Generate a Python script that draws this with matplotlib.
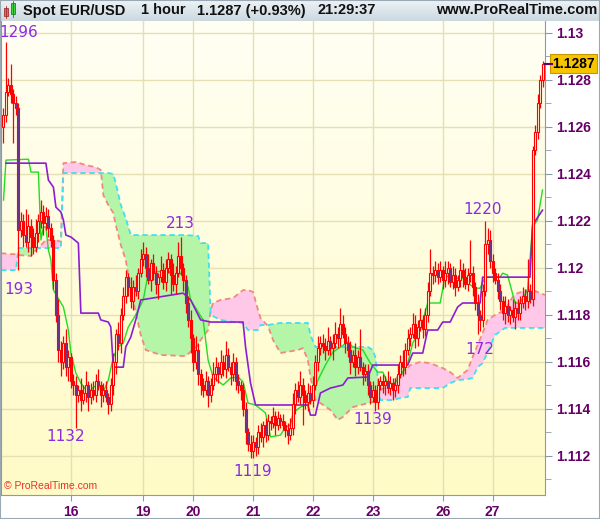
import numpy as np
import matplotlib
matplotlib.use("Agg")
from matplotlib import pyplot as plt
from matplotlib.patches import Rectangle
from matplotlib.colors import LinearSegmentedColormap

# EUR/USD hourly candles with an Ichimoku overlay (ProRealTime look)

first_open = 1.1260
close = [
    1.1265, 1.1275, 1.1278, 1.1274, 1.1270, 1.1268,
    1.1216,
    1.1220, 1.1214, 1.1211, 1.1218, 1.1213, 1.1209, 1.1215, 1.1220, 1.1224, 1.1219,
    1.1222, 1.1217, 1.1212,
    1.1195, 1.1180, 1.1165, 1.1160,
    1.1168, 1.1158, 1.1162, 1.1152,
    1.1150, 1.1146, 1.1148, 1.1144, 1.1147, 1.1150, 1.1145, 1.1148, 1.1146,
    1.1152, 1.1150, 1.1146, 1.1148, 1.1145, 1.1142,
    1.1150, 1.1160, 1.1172, 1.1168, 1.1180, 1.1188, 1.1196, 1.1192,
    1.1186, 1.1192, 1.1190, 1.1198, 1.1204,
    1.1206, 1.1200, 1.1195, 1.1202, 1.1198, 1.1193, 1.1196, 1.1199, 1.1194,
    1.1200, 1.1204, 1.1197, 1.1193, 1.1198, 1.1205, 1.1200, 1.1195,
    1.1185, 1.1178, 1.1170, 1.1160, 1.1165, 1.1155, 1.1150,
    1.1148, 1.1152, 1.1146, 1.1150, 1.1155,
    1.1158, 1.1155, 1.1160, 1.1157, 1.1163, 1.1158, 1.1155, 1.1160, 1.1152,
    1.1150, 1.1148, 1.1140,
    1.1130, 1.1125, 1.1122, 1.1126, 1.1124,
    1.1130, 1.1128, 1.1133, 1.1129,
    1.1135, 1.1134, 1.1137, 1.1133, 1.1136, 1.1135, 1.1133,
    1.1131, 1.1129, 1.1132,
    1.1142, 1.1148, 1.1145, 1.1150, 1.1146, 1.1143, 1.1147, 1.1144,
    1.1150, 1.1160, 1.1166, 1.1168,
    1.1167, 1.1165, 1.1169, 1.1166, 1.1168, 1.1172, 1.1170, 1.1176, 1.1172, 1.1168,
    1.1165, 1.1160, 1.1163, 1.1158, 1.1162, 1.1158, 1.1155, 1.1156,
    1.1150, 1.1145, 1.1148, 1.1143, 1.1150, 1.1152,
    1.1150, 1.1152, 1.1149, 1.1151, 1.1148, 1.1150,
    1.1155, 1.1160, 1.1158, 1.1165, 1.1170,
    1.1172, 1.1176, 1.1170, 1.1175, 1.1178, 1.1174, 1.1180,
    1.1190, 1.1198, 1.1197, 1.1199,
    1.1196, 1.1199, 1.1195, 1.1198, 1.1200, 1.1194, 1.1197, 1.1192, 1.1195,
    1.1199, 1.1196, 1.1193, 1.1197,
    1.1198, 1.1192, 1.1185, 1.1180, 1.1178,
    1.1190, 1.1210, 1.1212,
    1.1203, 1.1198, 1.1195, 1.1190,
    1.1186, 1.1181, 1.1184, 1.1180, 1.1182, 1.1179, 1.1183, 1.1181,
    1.1185, 1.1188, 1.1186, 1.1190, 1.1187,
    1.1250,
    1.1258, 1.1270, 1.1280, 1.1287,
]

# wick lengths in pips above / below the body
wick_up = [
    3, 21, 3, 9, 2, 3,
    2,
    4, 3, 11, 5, 3, 4, 6, 3, 5, 3,
    4, 3, 2,
    2, 3, 7, 4,
    3, 6, 3, 2,
    3, 4, 2, 5, 3, 6, 2, 3, 4,
    3, 5, 2, 3, 4, 2,
    3, 4, 2, 5, 3, 4, 3, 2,
    4, 3, 5, 2, 4,
    5, 3, 6, 2, 4, 3, 2, 6, 3, 4, 3, 2, 5, 3, 6, 8, 2,
    2, 3, 4, 2, 6, 3, 2,
    3, 4, 2, 3, 5,
    4, 2, 5, 3, 6, 3, 2, 4, 2,
    3, 2, 3,
    3, 2, 4, 3, 2,
    3, 4, 2, 3,
    3, 2, 4, 2, 3, 2, 3,
    2, 3, 4,
    5, 3, 4, 6, 3, 2, 4, 3,
    4, 3, 5, 3,
    4, 3, 6, 2, 4, 5, 3, 7, 4, 3,
    3, 4, 2, 5, 3, 12, 2, 3,
    3, 2, 4, 2, 3, 2,
    3, 2, 4, 3, 2, 3,
    4, 3, 5, 3, 4,
    3, 5, 4, 3, 5, 2, 3,
    4, 10, 3, 4,
    3, 4, 2, 5, 3, 2, 4, 3, 2, 5, 3, 4, 3,
    14, 3, 2, 4, 2,
    3, 10, 5,
    4, 3, 2, 3,
    3, 2, 4, 3, 2, 5, 3, 4,
    3, 4, 3, 14, 3,
    2,
    3, 4, 2, 1,
]
wick_lo = [
    7, 3, 2, 4, 17, 3,
    17,
    3, 5, 2, 4, 8, 3, 2, 4, 3, 5,
    3, 4, 3,
    4, 3, 5, 6,
    3, 4, 6, 3,
    4, 14, 3, 5, 2, 4, 6, 3, 2,
    3, 2, 5, 3, 2, 4,
    3, 4, 5, 3, 4, 2, 3, 4,
    3, 4, 2, 3, 2,
    3, 4, 2, 5, 3, 4, 6, 2, 3, 4, 2, 8, 3, 4, 2, 3, 5,
    4, 3, 6, 4, 3, 5, 4,
    3, 2, 5, 3, 2,
    3, 4, 2, 3, 4, 2, 5, 3, 4,
    3, 4, 3,
    5, 3, 3, 3, 4,
    3, 2, 4, 3,
    2, 3, 2, 4, 2, 3, 2,
    3, 4, 2,
    3, 4, 2, 3, 13, 3, 4, 2,
    3, 2, 4, 3,
    3, 4, 2, 3, 5, 2, 4, 3, 2, 4,
    3, 5, 2, 4, 3, 2, 5, 3,
    4, 3, 2, 4, 3, 2,
    3, 4, 2, 3, 4, 3,
    3, 2, 4, 3, 2,
    3, 2, 4, 3, 2, 4, 3,
    3, 2, 4, 3,
    3, 2, 4, 3, 5, 2, 3, 4, 2, 3, 4, 2, 3,
    3, 4, 3, 8, 5,
    3, 2, 4,
    3, 4, 2, 3,
    4, 3, 5, 3, 4, 2, 5, 3,
    3, 2, 4, 3, 2,
    3,
    2, 3, 2, 3,
]

# Tenkan (green) and Kijun (purple) lines: bar index, price
tenkan_x = [0, 1, 10, 11, 14, 15, 16, 17, 18, 19, 20, 24, 26, 27, 29, 31, 34, 36,
            38, 40, 42, 44, 46, 48, 50, 53, 56, 58, 66, 68, 71, 74, 75, 80, 82,
            84, 88, 91, 94, 96, 98, 101, 105, 107, 111, 113, 115, 116, 119, 123,
            124, 126, 129, 132, 138, 140, 144, 147, 150, 152, 154, 156, 159, 162,
            164, 167, 170, 175, 177, 179, 184, 186, 189, 191, 193, 199, 200, 202,
            205, 207, 210, 212, 214, 216]
tenkan_y = [1.12289, 1.12459, 1.12463, 1.12408, 1.12408, 1.12119, 1.12174, 1.12174,
            1.12076, 1.12034, 1.11906, 1.11834, 1.11736, 1.11638, 1.11553, 1.11510,
            1.11468, 1.11493, 1.11502, 1.11472, 1.11523, 1.11621, 1.11664, 1.11681,
            1.11749, 1.11800, 1.11864, 1.11978, 1.11991, 1.11957, 1.11978, 1.11919,
            1.11864, 1.11779, 1.11608, 1.11536, 1.11502, 1.11532, 1.11536, 1.11515,
            1.11425, 1.11417, 1.11383, 1.11281, 1.11289, 1.11323, 1.11332, 1.11383,
            1.11408, 1.11425, 1.11459, 1.11523, 1.11587, 1.11642, 1.11685, 1.11664,
            1.11651, 1.11595, 1.11557, 1.11557, 1.11510, 1.11502, 1.11536, 1.11595,
            1.11681, 1.11736, 1.11851, 1.11851, 1.11970, 1.11957, 1.11957, 1.11936,
            1.11914, 1.11914, 1.11961, 1.11961, 1.11978, 1.11970, 1.11851, 1.11851,
            1.11906, 1.12174, 1.12204, 1.12332]
kijun_x = [1, 17, 18, 20, 21, 23, 24, 25, 27, 30, 31, 38, 39, 42, 43, 44, 48, 49,
           51, 53, 55, 72, 75, 79, 83, 96, 97, 99, 101, 122, 123, 125, 127, 131,
           136, 138, 146, 148, 162, 164, 168, 170, 174, 176, 179, 182, 184, 191,
           192, 211, 212, 216]
kijun_y = [1.12446, 1.12446, 1.12374, 1.12344, 1.12259, 1.12238, 1.12204, 1.12140,
           1.12132, 1.12106, 1.11808, 1.11808, 1.11779, 1.11770, 1.11749, 1.11578,
           1.11578, 1.11664, 1.11706, 1.11779, 1.11864, 1.11893, 1.11864, 1.11779,
           1.11770, 1.11770, 1.11664, 1.11510, 1.11417, 1.11417, 1.11374, 1.11374,
           1.11468, 1.11489, 1.11502, 1.11532, 1.11536, 1.11587, 1.11587, 1.11638,
           1.11638, 1.11736, 1.11736, 1.11770, 1.11770, 1.11834, 1.11851, 1.11851,
           1.11961, 1.11961, 1.12183, 1.12246]

# cloud: Senkou span A (red dashed) and span B (cyan dashed)
span_x = [-1, 3, 5, 6, 11, 13, 17, 21, 23, 24, 29, 33, 37, 39, 40, 42, 44, 45, 47,
          49, 51, 55, 57, 63, 73, 78, 79, 82, 83, 84, 87, 92, 96, 98, 100, 102, 103,
          106, 108, 111, 118, 120, 122, 123, 125, 127, 131, 134, 136, 140, 146, 148,
          149, 150, 151, 156, 159, 162, 163, 167, 171, 176, 179, 182, 186, 188, 190,
          192, 194, 197, 201, 204, 206, 210, 212, 217]
span_a = [1.12063, 1.12059, 1.12059, 1.12055, 1.12051, 1.12076, 1.12119, 1.12119,
          1.12111, 1.12446, 1.12451, 1.12438, 1.12429, 1.12417, 1.12310, 1.12268,
          1.12234, 1.12183, 1.12098, 1.12034, 1.11906, 1.11715, 1.11651, 1.11630,
          1.11625, 1.11672, 1.11694, 1.11736, 1.11821, 1.11851, 1.11864, 1.11872,
          1.11906, 1.11906, 1.11898, 1.11821, 1.11787, 1.11753, 1.11694, 1.11638,
          1.11651, 1.11659, 1.11608, 1.11536, 1.11438, 1.11425, 1.11396, 1.11353,
          1.11366, 1.11408, 1.11425, 1.11430, 1.11434, 1.11447, 1.11481, 1.11510,
          1.11553, 1.11574, 1.11587, 1.11600, 1.11595, 1.11574, 1.11557, 1.11532,
          1.11566, 1.11621, 1.11672, 1.11723, 1.11779, 1.11800, 1.11821, 1.11876,
          1.11893, 1.11906, 1.11906, 1.11885]
span_b = [1.11991, 1.11991, 1.11991, 1.12085, 1.12085, 1.12085, 1.12085, 1.12085,
          1.12085, 1.12404, 1.12404, 1.12404, 1.12404, 1.12404, 1.12404, 1.12404,
          1.12400, 1.12361, 1.12268, 1.12212, 1.12140, 1.12140, 1.12140, 1.12140,
          1.12140, 1.12136, 1.12106, 1.12106, 1.11808, 1.11795, 1.11779, 1.11770,
          1.11766, 1.11736, 1.11736, 1.11736, 1.11757, 1.11757, 1.11761, 1.11766,
          1.11766, 1.11766, 1.11766, 1.11715, 1.11664, 1.11664, 1.11664, 1.11664,
          1.11664, 1.11664, 1.11664, 1.11651, 1.11621, 1.11532, 1.11438, 1.11438,
          1.11447, 1.11451, 1.11489, 1.11489, 1.11489, 1.11489, 1.11510, 1.11523,
          1.11527, 1.11532, 1.11578, 1.11595, 1.11642, 1.11715, 1.11745, 1.11745,
          1.11745, 1.11745, 1.11745, 1.11745]

day_ticks = [27, 56, 76, 100, 124, 148, 176, 196]
day_labels = ["16", "19", "20", "21", "22", "23", "26", "27"]

# (label, bar, price) for the swing high / low notes
notes = [("1296", 6, 1.13000), ("193", 6, 1.11910), ("213", 71, 1.12191),
         ("1132", 25, 1.11281), ("1119", 100, 1.11132), ("1139", 148, 1.11357),
         ("1220", 192, 1.12247), ("172", 191, 1.11655)]

last_price = 1.1287

PURPLE = "#660066"
NOTE = "#8a2be2"
plt.rcParams["font.family"] = ["Liberation Sans", "DejaVu Sans"]

c = np.array(close)
o = np.array([first_open] + close[:-1])
x = np.arange(len(c))
top = np.maximum(o, c)
bot = np.minimum(o, c)
hi = top + np.array(wick_up) * 1e-4
lo = bot - np.array(wick_lo) * 1e-4

fig = plt.figure(figsize=(6, 5.19), dpi=100)
ax = fig.add_axes([1 / 600, 24 / 519, 544 / 600, 474 / 519])
ylo, yhi = 1.11034, 1.13051
ax.set_xlim(-1, 217)
ax.set_ylim(ylo, yhi)

grad = np.linspace(0, 1, 256).reshape(-1, 1)
bg = LinearSegmentedColormap.from_list("bg", ["#fffbc6", "#fffff4"])
ax.imshow(grad, extent=[-1, 217, ylo, yhi], origin="lower", aspect="auto",
          cmap=bg, zorder=0)

for t in np.arange(1.112, 1.1301, 0.002):
    ax.axhline(t, color="#e4e0b4", lw=1, zorder=0.5)
for t in day_ticks:
    ax.axvline(t, color="#e4e0b4", lw=1, zorder=0.5)

sx = np.array(span_x)
sa = np.array(span_a)
sb = np.array(span_b)
ax.fill_between(sx, sa, sb, where=sa >= sb, interpolate=True, color="#ffc8e8",
                lw=0, zorder=1)
ax.fill_between(sx, sa, sb, where=sa < sb, interpolate=True, color="#b4f5a8",
                lw=0, zorder=1)
ax.plot(sx, sa, color="#f08a80", lw=1.3, ls=(0, (3, 2)), zorder=1.5)
ax.plot(sx, sb, color="#40e0ee", lw=1.3, ls=(0, (3, 2)), zorder=1.5)

ax.plot(tenkan_x, tenkan_y, color="#22dd22", lw=1.0, zorder=2)
ax.plot(kijun_x, kijun_y, color="#8c1ed2", lw=1.2, zorder=2)

face = np.where(c >= o, "#fffbd8", "#5a3c9e")
ax.vlines(x, lo, bot, color="#ff0000", lw=0.9, zorder=3)
ax.vlines(x, top, hi, color="#ff0000", lw=0.9, zorder=3)
ax.bar(x, np.maximum(top - bot, 0.00003), bottom=bot, width=0.8, color=face,
       edgecolor="#ff0000", linewidth=0.8, zorder=4)

for txt, bx, py in notes:
    ax.text(bx, py, txt, color=NOTE, fontsize=11, family="DejaVu Sans",
            ha="center", va="center", zorder=6, clip_on=True)

ax.text(0.006, 0.012, "\u00a9 ProRealTime.com", transform=ax.transAxes,
        color="#e8302a", fontsize=7.5, zorder=6)

ax.yaxis.tick_right()
ax.set_yticks(np.round(np.arange(1.112, 1.1301, 0.002), 3))
ax.set_yticklabels(["1.112", "1.114", "1.116", "1.118", "1.12", "1.122",
                    "1.124", "1.126", "1.128", "1.13"])
ax.set_yticks(np.round(np.arange(1.111, 1.1301, 0.002), 3), minor=True)
ax.tick_params(axis="y", which="major", length=5, color="#8a9aaa", pad=3,
               labelcolor=PURPLE, labelsize=10)
ax.tick_params(axis="y", which="minor", length=4, color="#8a9aaa")
for lab in ax.get_yticklabels():
    lab.set_fontweight("bold")
ax.set_xticks(day_ticks)
ax.set_xticklabels(day_labels)
ax.tick_params(axis="x", length=4, color="#8a9aaa", labelcolor=PURPLE,
               labelsize=10, pad=3)
for lab in ax.get_xticklabels():
    lab.set_fontweight("bold")
for s in ["left", "right", "bottom"]:
    ax.spines[s].set_color("#8a9aaa")
ax.spines["top"].set_visible(False)

# current price marker
ax.annotate(f"{last_price:.4f}", xy=(1.0, last_price), xycoords=("axes fraction", "data"),
            xytext=(5, 0), textcoords="offset points", va="center", ha="left",
            fontsize=10, fontweight="bold", color="black", zorder=7,
            bbox=dict(boxstyle="square,pad=0.15", fc="#f7c400", ec="#c89800", lw=0.8),
            annotation_clip=False)
ax.plot([1.0, 1.012], [last_price, last_price], transform=ax.get_yaxis_transform(),
        color=PURPLE, lw=1.5, clip_on=False, zorder=7)

# header bar
hax = fig.add_axes([0, 498 / 519, 1, 21 / 519])
hax.imshow(grad, extent=[0, 1, 0, 1], origin="lower", aspect="auto",
           cmap=LinearSegmentedColormap.from_list("hd", ["#cbd8e0", "#eef3f6"]))
hax.set_xlim(0, 1)
hax.set_ylim(0, 1)
hax.axis("off")
hax.add_patch(Rectangle((4 / 600, 0.25), 4 / 600, 0.35, fc="#f06060", ec="#a03030", lw=0.6))
hax.plot([6 / 600, 6 / 600], [0.15, 0.7], color="#a03030", lw=0.6)
hax.add_patch(Rectangle((11 / 600, 0.35), 4 / 600, 0.5, fc="#40d040", ec="#208020", lw=0.6))
hax.plot([13 / 600, 13 / 600], [0.2, 0.95], color="#208020", lw=0.6)
hy = 0.5
for xp, txt in [(23, "Spot EUR/USD"), (141, "1 hour"), (197, "1.1287 (+0.93%)"),
                (317, "21:29:37")]:
    hax.text(xp / 600, hy, txt, fontsize=10.5, fontweight="bold", va="center",
             ha="left", color="#111111")
hax.text(597 / 600, hy, "www.ProRealTime.com", fontsize=10.5, fontweight="bold",
         va="center", ha="right", color="#111111")

fig.patches.append(Rectangle((0, 0), 1, 1, transform=fig.transFigure, fill=False,
                             ec="#9aa8b4", lw=1.5))

fig.savefig("out.png", dpi=100)
